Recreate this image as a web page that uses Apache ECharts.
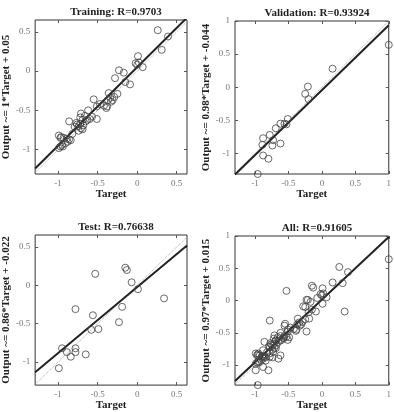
<!DOCTYPE html>
<html>
<head>
<meta charset="utf-8">
<script src="https://cdn.jsdelivr.net/npm/echarts@6/dist/echarts.min.js"></script>
<style>
    html, body { margin: 0; padding: 0; background: #fff; }
    #main { width: 394px; height: 412px; }
</style>
</head>
<body>
<div id="main"></div>
<script>
// titles / labels
var titles = ['Training: R=0.9703', 'Validation: R=0.93924', 'Test: R=0.76638', 'All: R=0.91605'];
var yNames = ['Output ~= 1*Target + 0.05', 'Output ~= 0.98*Target + -0.044',
    'Output ~= 0.86*Target + -0.022', 'Output ~= 0.97*Target + 0.015'];
// fit coefficients
var slopes = [1, 0.98, 0.86, 0.97];
var offsets = [0.05, -0.044, -0.022, 0.015];
// tick labels
var ticksShort = [-1, -0.5, 0, 0.5];
var ticksLong = [-1, -0.5, 0, 0.5, 1];

// [target, output]
var trainPts = [
    [0.26, 0.52], [0.39, 0.44], [0.31, 0.27], [0.01, 0.19], [-0.02, 0.10], [0.02, 0.11], [0.07, 0.05], [0.0, 0.08],
    [-0.23, 0.01], [-0.17, -0.02], [-0.28, -0.09], [-0.15, -0.14], [-0.09, -0.17],
    [-0.36, -0.28], [-0.25, -0.29], [-0.34, -0.34], [-0.37, -0.37], [-0.31, -0.37], [-0.33, -0.39], [-0.29, -0.33],
    [-0.55, -0.36], [-0.47, -0.42], [-0.51, -0.45], [-0.39, -0.47], [-0.38, -0.45], [-0.42, -0.44],
    [-0.62, -0.50], [-0.71, -0.54], [-0.72, -0.59], [-0.60, -0.61], [-0.51, -0.61], [-0.57, -0.58], [-0.66, -0.57],
    [-0.65, -0.64], [-0.63, -0.62], [-0.69, -0.62],
    [-0.86, -0.64], [-0.77, -0.66], [-0.74, -0.70], [-0.68, -0.69], [-0.71, -0.73], [-0.74, -0.76], [-0.69, -0.74],
    [-0.79, -0.71], [-0.72, -0.67], [-0.76, -0.68],
    [-0.99, -0.82], [-0.96, -0.84], [-0.93, -0.85], [-0.89, -0.86], [-0.84, -0.88], [-0.88, -0.90], [-0.91, -0.92],
    [-0.95, -0.94], [-0.97, -0.96], [-0.99, -0.98], [-0.94, -0.96], [-0.86, -0.87], [-0.82, -0.80], [-0.97, -0.85]
];
var valPts = [
    [1.0, 0.64], [0.16, 0.28], [-0.21, 0.01], [-0.25, -0.10], [-0.20, -0.18],
    [-0.51, -0.48], [-0.56, -0.55], [-0.53, -0.56], [-0.62, -0.55], [-0.69, -0.62],
    [-0.78, -0.72], [-0.88, -0.77], [-0.73, -0.80], [-0.89, -0.87], [-0.74, -0.88],
    [-0.62, -0.85], [-0.88, -1.03], [-0.80, -1.08], [-0.96, -1.31]
];
var testPts = [
    [-0.15, 0.23], [-0.13, 0.20], [-0.53, 0.15], [-0.07, 0.04], [0.01, -0.05],
    [0.34, -0.17], [-0.78, -0.31], [-0.19, -0.28], [-0.56, -0.39], [-0.23, -0.48],
    [-0.58, -0.58], [-0.49, -0.57], [-0.95, -0.82], [-0.78, -0.82], [-0.89, -0.87],
    [-0.78, -0.87], [-0.84, -0.93], [-0.65, -0.90], [-0.99, -1.08]
];
var allPts = trainPts.concat(valPts, testPts);
var panelPts = [trainPts, valPts, testPts, allPts];

// layout: box in px and axis limits
var boxes = [[35, 20, 152, 154], [235, 21, 154, 153], [35, 235, 152, 154], [235, 236, 154, 153]];
var xLims = [[-1.29, 0.63], [-1.30, 1.0], [-1.29, 0.63], [-1.30, 1.0]];
var yLims = [[-1.31, 0.65], [-1.31, 1.0], [-1.30, 0.656], [-1.31, 1.0]];
var panelTicks = [ticksShort, ticksLong, ticksShort, ticksLong];

var serif = 'Liberation Serif';

var option = {
    animation: false,
    backgroundColor: '#fff',
    title: [], grid: [], xAxis: [], yAxis: [], series: []
};

for (var i = 0; i < 4; i++) {
    var b = boxes[i];
    option.title.push({
        text: titles[i],
        left: b[0] + b[2] / 2, top: b[1] - 18, textAlign: 'center',
        textStyle: {fontFamily: serif, fontWeight: 'bold', fontSize: 11, color: '#222'}
    });
    option.grid.push({
        left: b[0], top: b[1], width: b[2], height: b[3],
        show: true, borderColor: '#333', borderWidth: 1, backgroundColor: '#fff'
    });
    var tk = panelTicks[i];
    var tick = {show: true, inside: true, length: 3, customValues: tk, lineStyle: {color: '#555'}};
    var lbl = {show: true, customValues: tk, fontFamily: serif, fontSize: 9, color: '#777', margin: 5};
    var noLine = {show: false, onZero: false};
    // bottom / left axes
    option.xAxis.push({
        type: 'value', gridIndex: i, position: 'bottom', min: xLims[i][0], max: xLims[i][1],
        axisLine: noLine, splitLine: {show: false}, axisTick: tick, axisLabel: lbl,
        name: 'Target', nameLocation: 'middle', nameGap: 13,
        nameTextStyle: {fontFamily: serif, fontWeight: 'bold', fontSize: 11, color: '#222'}
    });
    option.yAxis.push({
        type: 'value', gridIndex: i, position: 'left', min: yLims[i][0], max: yLims[i][1],
        axisLine: noLine, splitLine: {show: false}, axisTick: tick, axisLabel: lbl,
        name: yNames[i], nameLocation: 'middle', nameGap: 20, nameRotate: 90,
        nameTextStyle: {fontFamily: serif, fontWeight: 'bold', fontSize: 11, color: '#222'}
    });
    // mirrored ticks on top / right
    option.xAxis.push({
        type: 'value', gridIndex: i, position: 'top', min: xLims[i][0], max: xLims[i][1],
        axisLine: noLine, splitLine: {show: false}, axisTick: tick, axisLabel: {show: false}
    });
    option.yAxis.push({
        type: 'value', gridIndex: i, position: 'right', min: yLims[i][0], max: yLims[i][1],
        axisLine: noLine, splitLine: {show: false}, axisTick: tick, axisLabel: {show: false}
    });

    var lo = Math.min(xLims[i][0], yLims[i][0]), hi = Math.max(xLims[i][1], yLims[i][1]);
    // Y = T dotted
    option.series.push({
        type: 'line', xAxisIndex: i * 2, yAxisIndex: i * 2, symbol: 'none', clip: true, z: 1,
        lineStyle: {color: '#aaa', width: 1, type: 'dotted'},
        data: [[lo, lo], [hi, hi]]
    });
    // fit line
    var x0 = xLims[i][0], x1 = xLims[i][1];
    option.series.push({
        type: 'line', xAxisIndex: i * 2, yAxisIndex: i * 2, symbol: 'none', clip: true, z: 2,
        lineStyle: {color: '#222', width: 2},
        data: [[x0, slopes[i] * x0 + offsets[i]], [x1, slopes[i] * x1 + offsets[i]]]
    });
    // data
    option.series.push({
        type: 'scatter', xAxisIndex: i * 2, yAxisIndex: i * 2, symbol: 'circle', symbolSize: 7, z: 3,
        itemStyle: {color: 'rgba(0,0,0,0)', borderColor: '#444', borderWidth: 1},
        data: panelPts[i]
    });
}

var chart = echarts.init(document.getElementById('main'));
chart.setOption(option);
</script>
</body>
</html>
